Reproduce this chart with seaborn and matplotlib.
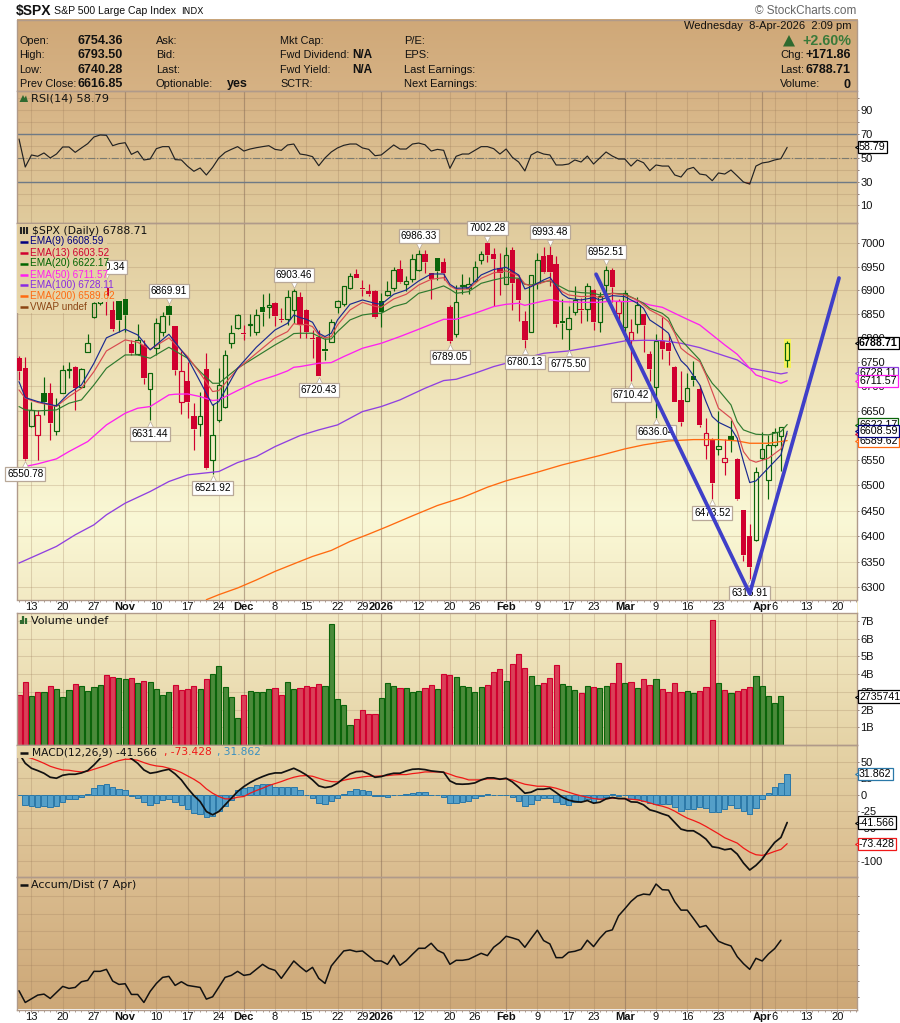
import numpy as np
import pandas as pd
import matplotlib
matplotlib.use("Agg")
import matplotlib.pyplot as plt
from matplotlib.ticker import NullLocator, FixedLocator
from matplotlib.transforms import offset_copy
import seaborn as sns

sns.set_theme(style="white")
plt.rcParams["font.family"] = ["Liberation Sans", "DejaVu Sans"]

# trading day number on the x axis, 0 is 9 Oct 2025
tick_days = [2, 7, 12, 17, 22, 27, 32, 36, 41, 46, 51, 55, 58, 64, 69, 73, 78, 83, 88, 92, 97, 102, 107, 112, 117, 119, 121, 126, 131]
tick_text = ["13", "20", "27", "Nov", "10", "17", "24", "Dec", "8", "15", "22", "29", "2026", "12", "20", "26", "Feb", "9", "17", "23", "Mar", "9", "16", "23", "", "Apr", "6", "13", "20"]
month_days = [17, 36, 58, 78, 97, 119]

open_px = [6758, 6737, 6620, 6600, 6686, 6686, 6610, 6687, 6733, 6739, 6699, 6770, 6843, 6873, 6904, 6859, 6878, 6881, 6788, 6767, 6786, 6694, 6779, 6813, 6867, 6825, 6669, 6711, 6640, 6623, 6736, 6551.5, 6632, 6657, 6790, 6820, 6811, 6827, 6813, 6865, 6864, 6873, 6839, 6840, 6859, 6885, 6859, 6799, 6803, 6777, 6791, 6864, 6871, 6904, 6935, 6905, 6899, 6899, 6877.5, 6891, 6905, 6945, 6913, 6925, 6942, 6977, 6936, 6968, 6959.5, 6864, 6808, 6910, 6905, 6920.5, 6964, 7000.8, 6976.5, 6947, 6914, 6986, 6923, 6835, 6813, 6915, 6973, 6975, 6956, 6836, 6818, 6854, 6861, 6860, 6901, 6834, 6911, 6943, 6853, 6822, 6796, 6830, 6849.5, 6766, 6698, 6794, 6790, 6740, 6672, 6671, 6721, 6695, 6580, 6593, 6572, 6547.5, 6598, 6553, 6451, 6400, 6392, 6554, 6510, 6581, 6598, 6754.36]
high_px = [6763, 6760, 6667, 6652, 6720, 6706, 6676, 6744, 6750, 6741, 6737, 6809, 6875, 6908, 6920.34, 6878, 6878, 6881, 6796, 6829, 6796, 6728, 6841, 6854, 6869.91, 6826, 6772, 6751, 6666, 6688, 6769, 6664.5, 6737, 6775, 6828, 6850, 6827, 6850, 6860, 6893, 6894, 6876, 6862, 6900, 6903.46, 6897, 6860, 6816, 6816, 6800, 6840, 6880, 6909.5, 6936, 6945, 6922, 6913, 6901, 6894, 6920.5, 6949, 6964.5, 6930, 6976.5, 6986.33, 6986, 6937, 6969, 6968, 6869, 6911, 6934, 6929, 6962, 6984, 7002.28, 6989, 6979, 6991.5, 6991.5, 6932.5, 6856.5, 6933, 6979, 6993, 6993.48, 6973, 6882, 6866, 6909, 6883, 6915, 6902, 6897, 6952.51, 6948, 6882, 6901, 6840, 6886, 6851, 6772, 6808, 6844, 6808, 6741, 6732, 6727, 6752, 6703, 6635, 6594, 6650, 6593, 6632, 6554, 6452, 6424, 6536, 6607, 6601, 6616, 6618, 6793.5]
low_px = [6713, 6550.78, 6618, 6551, 6642, 6590, 6600, 6687, 6717, 6652, 6696, 6770, 6841, 6868, 6848, 6815, 6813, 6813, 6765, 6765, 6705, 6631.44, 6765, 6804, 6827, 6724, 6643, 6635, 6571, 6599, 6533, 6521.92, 6628, 6656, 6780, 6819, 6796, 6804, 6806, 6824, 6841, 6824, 6833, 6827, 6831, 6800, 6800, 6758, 6720.43, 6754, 6791, 6853, 6867, 6903, 6926, 6887, 6889, 6842, 6822, 6889, 6899, 6915, 6899, 6917, 6941, 6936, 6882, 6922, 6922, 6789.05, 6802, 6892, 6892, 6918, 6955, 6961, 6867, 6890, 6913, 6859, 6836, 6780.13, 6812, 6903, 6936, 6910, 6822, 6798, 6775.5, 6847, 6831, 6835, 6817, 6813, 6880, 6876, 6827, 6796, 6710.42, 6810, 6771, 6710, 6636.04, 6756.5, 6743, 6667, 6620, 6670, 6700, 6617, 6553, 6473.52, 6561, 6521, 6566, 6470.5, 6352, 6316.91, 6391, 6551, 6472, 6576, 6528, 6740.28]
close_px = [6732, 6552, 6651, 6641, 6667, 6626, 6661, 6733, 6735, 6696, 6735, 6789, 6873, 6900, 6887, 6819, 6838, 6848, 6768, 6796, 6718, 6727, 6831, 6845, 6848, 6734, 6732, 6669, 6613, 6639, 6535, 6601, 6702, 6764, 6810, 6847, 6809, 6829, 6847, 6855, 6868, 6845, 6838, 6885, 6899, 6827, 6813, 6797, 6722, 6772, 6833, 6877, 6908.5, 6930, 6927, 6903, 6892, 6843, 6855, 6899, 6942, 6918, 6919, 6966, 6976.5, 6961, 6925, 6941, 6937, 6794.5, 6875, 6912, 6914, 6949, 6976.5, 6975, 6967, 6936, 6974, 6916, 6880, 6796, 6932, 6964, 6938, 6938, 6830, 6832, 6841, 6879, 6859, 6908.5, 6834, 6889, 6944, 6906, 6877.5, 6894, 6813, 6868.5, 6827, 6736, 6794, 6777, 6773, 6669, 6628, 6696, 6713, 6621, 6604.5, 6504, 6578, 6554, 6590, 6473, 6363, 6339, 6527, 6572, 6580, 6608, 6616.85, 6788.71]
day_color = list(
    "rrgrgrgggr" "ggggrrggrg" "rggggrrrrg" "rgggggrggg"
    "grrggrrrrg" "ggggrrrrgg" "grgggrrgrr" "gggggrrrgr"
    "rrggrrrggg" "rgrggrrgrg" "rrgrrrrggr" "rrgrgrrrgg"
    "gggg")

# EMA overlays, read at the listed days
fast_days = [0, 1, 3, 6, 8, 10, 12, 14, 17, 19, 21, 24, 27, 29, 31, 32, 35, 38, 41, 43, 44, 45, 46, 47, 48, 49, 50, 51, 53, 55, 57, 58, 60, 62, 64, 66, 68, 69, 70, 72, 74, 76, 78, 80, 81, 82, 84, 85, 87, 88, 90, 92, 93, 95, 97, 99, 100, 101, 103, 104, 105, 106, 107, 109, 110, 111, 112, 114, 115, 116, 117, 118, 120, 122, 123]
ema9 = [6709.8, 6677.1, 6668.9, 6660, 6685.9, 6703, 6747.6, 6800.3, 6818.2, 6806.4, 6775.2, 6807.8, 6757.9, 6709.8, 6661.4, 6668.9, 6737.3, 6780.7, 6816.8, 6830.7, 6848.1, 6842.6, 6839.1, 6832.8, 6809.9, 6803, 6809.9, 6837.7, 6870.5, 6879.6, 6872.6, 6870.5, 6891.6, 6900.7, 6919.8, 6934.6, 6934.6, 6912.7, 6904.2, 6905.6, 6932.5, 6944, 6948.8, 6932.5, 6902.8, 6907.8, 6921.9, 6927.6, 6891.6, 6883.2, 6879.6, 6884.6, 6879.6, 6888.8, 6886.7, 6872.6, 6862.1, 6837.7, 6820.3, 6809.9, 6778.7, 6753, 6740.7, 6703, 6668.9, 6638.4, 6626.8, 6614.7, 6594.4, 6547.5, 6505.5, 6508.8, 6534.9, 6561, 6608.59]
ema13 = [6692.7, 6675.7, 6667, 6659, 6679.1, 6696.1, 6730.4, 6773.1, 6796, 6791.1, 6776.6, 6800.3, 6761.4, 6727, 6689.3, 6691.4, 6735.9, 6768.2, 6800.3, 6813.3, 6830, 6827.2, 6828.5, 6823.7, 6806.4, 6800.3, 6803, 6827.2, 6858.6, 6874.6, 6866.2, 6864.2, 6881.8, 6891.6, 6911.3, 6923.3, 6926.8, 6909.3, 6902.2, 6902.8, 6925.4, 6937, 6941.2, 6930.4, 6913.4, 6909.3, 6917, 6921.9, 6897.2, 6890.2, 6886.7, 6888.1, 6884.6, 6893.7, 6890.2, 6879.6, 6869.1, 6858.6, 6844.7, 6834.2, 6809.9, 6778.7, 6768.2, 6751, 6723.5, 6689.3, 6655.3, 6635, 6607.9, 6567.6, 6550.9, 6546.2, 6554.2, 6573, 6603.52]
ema20 = [6658.7, 6651.9, 6649.9, 6651.9, 6665.5, 6672.3, 6703, 6737.3, 6764.8, 6764.8, 6757.9, 6780.7, 6757.9, 6730.4, 6706.4, 6706.4, 6737.3, 6761.4, 6785.6, 6800.3, 6809.2, 6809.9, 6809.9, 6809.9, 6803, 6797.4, 6798.1, 6813.3, 6837.7, 6848.1, 6851.6, 6851.6, 6865.7, 6872.7, 6893.7, 6900.7, 6909.3, 6902.2, 6893.7, 6897.2, 6914.8, 6921.9, 6927.6, 6925.4, 6912.7, 6911.3, 6918.4, 6919.8, 6905.6, 6898.6, 6895.1, 6893.7, 6890.2, 6893.7, 6892.3, 6879.6, 6872.7, 6862.1, 6851.6, 6841.2, 6813.3, 6796, 6782.1, 6754.5, 6727, 6706.4, 6692.7, 6662.1, 6628, 6611.3, 6606.6, 6602.5, 6601.2, 6607.9, 6622.17]
ema50_days = [0, 1, 3, 6, 8, 11, 14, 17, 19, 21, 24, 25, 27, 29, 31, 32, 35, 38, 41, 43, 44, 45, 48, 50, 52, 55, 58, 61, 64, 68, 70, 73, 76, 78, 80, 81, 84, 85, 87, 90, 93, 95, 97, 99, 101, 103, 105, 107, 109, 111, 113, 115, 117, 118, 120, 122, 123]
ema50 = [6532.2, 6537.6, 6542.9, 6552.9, 6567.6, 6587.7, 6621.4, 6645.1, 6655.3, 6658.7, 6682.5, 6683.9, 6684.5, 6679.1, 6671, 6672.3, 6691.4, 6709.8, 6722.1, 6731.8, 6739.3, 6740.7, 6747.6, 6749, 6761.4, 6778.7, 6789, 6803, 6818.2, 6839.1, 6839.1, 6851.6, 6865.7, 6870.5, 6872.7, 6868.4, 6877.5, 6880.3, 6876, 6874.7, 6874.7, 6877.5, 6876, 6877.5, 6869.1, 6864.2, 6851.6, 6839.1, 6827.2, 6806.4, 6785.6, 6766.2, 6737.3, 6723.5, 6714.6, 6706.4, 6711.57]
ema100_days = [0, 3, 6, 9, 12, 14, 17, 21, 24, 27, 30, 32, 35, 38, 41, 45, 48, 51, 55, 58, 61, 65, 68, 70, 73, 76, 78, 81, 84, 88, 93, 97, 100, 103, 106, 109, 113, 115, 117, 120, 122, 123]
ema100 = [6347.1, 6363.3, 6379.6, 6402.3, 6421.9, 6441.6, 6464.6, 6487.7, 6507.6, 6520.9, 6524.9, 6527.6, 6545.5, 6557.5, 6577.6, 6599.8, 6611.3, 6621.4, 6648.5, 6658.7, 6672.3, 6696.1, 6711.9, 6714.6, 6727, 6740.7, 6747.6, 6757.9, 6768.2, 6773.1, 6784.2, 6793.9, 6795.3, 6794.6, 6789, 6780, 6762.7, 6754.5, 6737.3, 6730.4, 6725.6, 6728.11]
ema200_days = [30, 32, 35, 38, 41, 45, 47, 50, 53, 56, 59, 63, 67, 71, 75, 78, 83, 87, 93, 97, 100, 104, 108, 112, 115, 117, 120, 123]
ema200 = [6276.3, 6286, 6298.8, 6314.3, 6331, 6350.4, 6360, 6371.7, 6389.3, 6403.6, 6418.6, 6439.6, 6460, 6475.8, 6496.3, 6509, 6526.2, 6540.9, 6559.6, 6572.9, 6581, 6589, 6591.7, 6591.7, 6589, 6584.3, 6584.3, 6589.62]

# hand drawn V on the price panel
trend_days = [92.4, 117, 131.3]
trend_px = [6934, 6288, 6926]

# high / low call-outs: day, value, side (+1 above the bar, -1 below)
callout_day = [14, 24, 44, 64, 75, 85, 94, 1, 21, 31, 48, 69, 81, 88, 98, 102, 111, 117]
callout_px = [6920.34, 6869.91, 6903.46, 6986.33, 7002.28, 6993.48, 6952.51, 6550.78, 6631.44, 6521.92, 6720.43, 6789.05, 6780.13, 6775.50, 6710.42, 6636.04, 6473.52, 6316.91]
callout_side = [1, 1, 1, 1, 1, 1, 1, -1, -1, -1, -1, -1, -1, -1, -1, -1, -1, -1]

rsi = [65.8, 42.3, 52.4, 51.3, 54.1, 49.9, 53.2, 59.1, 59.1, 54.6, 58.3, 61.9, 67.5, 69.2, 68.9, 60.2, 61.9, 62.7, 52.9, 55.5, 48.2, 49.0, 57.7, 59.4, 59.4, 48.5, 48.2, 42.9, 38.7, 41.5, 35.6, 42.0, 49.9, 54.6, 57.1, 59.4, 55.7, 57.4, 58.5, 59.4, 60.2, 57.1, 56.3, 60.8, 61.6, 53.2, 52.4, 51.0, 43.4, 49.9, 54.9, 58.3, 60.5, 61.6, 61.6, 58.3, 57.1, 51.8, 52.4, 56.6, 60.8, 57.4, 57.4, 61.6, 62.4, 61.0, 55.7, 57.1, 56.3, 41.2,
       51.3, 53.2, 53.2, 56.3, 59.4, 59.4, 57.7, 53.2, 57.4, 50.4, 46.5, 39.0, 52.4, 55.2, 53.2, 52.4, 44.0, 44.0, 44.8, 48.2, 46.5, 51.5, 44.8, 49.9, 54.9, 51.5, 49.0, 49.0, 43.1, 48.2, 45.9, 39.2, 44.0, 43.1, 43.1, 35.6, 33.9, 40.4, 42.0, 36.4, 35.6, 30.8, 37.3, 36.4, 39.8, 34.8, 29.7, 28.0, 43.1, 45.7, 46.5, 48.2, 49.3, 58.79]

# volume in billions, today has none yet
volume = [2.83, 3.57, 2.77, 2.98, 2.98, 3.34, 3.17, 2.72, 3.09, 3.45, 3.34, 3.06, 3.28, 3.38, 3.96, 3.83, 3.77, 3.74, 3.79, 3.49, 3.62, 3.57, 3.17, 2.83, 2.98, 3.40, 3.11, 3.17, 3.34, 3.17, 3.74, 4.02, 4.47, 3.26, 2.72, 1.53, 2.83, 3.06, 3.00, 3.00, 3.17, 3.23, 2.83, 3.57, 3.17, 3.23, 3.34, 3.28, 3.45, 3.34, 6.85, 2.60, 2.26, 1.13, 1.47, 1.98, 1.75, 1.75, 2.66, 3.49, 3.34, 3.23, 3.23, 3.00, 3.06, 3.23, 3.40, 3.17, 4.02, 3.96,
          3.83, 3.34, 3.28, 3.00, 3.26, 3.40, 4.13, 4.30, 3.62, 4.58, 5.15, 4.36, 3.89, 3.40, 3.51, 3.79, 4.53, 3.45, 3.34, 3.11, 2.94, 3.34, 3.28, 3.23, 3.34, 3.51, 4.64, 3.51, 3.57, 3.23, 3.74, 3.40, 3.74, 3.17, 3.00, 3.51, 3.00, 3.06, 2.94, 3.06, 3.28, 7.08, 3.51, 3.11, 2.94, 3.06, 3.17, 3.28, 3.91, 3.34, 2.77, 2.38, 2.74]

macd_line = [62.5, 47.5, 40, 36.5, 32.5, 26.5, 25, 29.5, 31, 31, 33, 36.5, 45, 55, 63.5, 67.5, 66.5, 61.5, 54.5, 47.5, 37.5, 32.5, 34, 36.5, 38.5, 31.5, 22.5, 10, -1, -10, -25, -30, -25, -15, -5, 5, 12.5, 18.5, 23.5, 27.5, 31, 33, 33, 36.5, 40, 35.5, 30, 22.5, 13.5, 11, 12.5, 17.5, 25, 31.5, 35, 35.5, 31.5, 26.5, 27.5, 30.5, 32.5, 32.5, 36, 38.5, 39, 38, 36, 35, 34, 21,
             16.5, 16, 16.5, 18, 22.5, 25.5, 25.5, 23.5, 25, 19.5, 11.5, 2.5, 4, 8.5, 8.5, 10, 3.5, -3.5, -8, -10, -11, -8.5, -12.5, -11, -6, -4, -5.5, -5.5, -10.5, -11, -15, -22.5, -25, -28.5, -31.5, -41.5, -51.5, -54, -54, -59.5, -66.5, -78, -79.5, -82.5, -81, -89, -102.5, -113, -106, -96.5, -83.5, -71.5, -64, -41.566]
macd_signal = [60, 57.5, 55, 51.5, 47.5, 43, 40, 37.5, 37, 35.5, 34.5, 35.5, 38.5, 41.5, 44.5, 48.5, 51.5, 53.5, 53.5, 52, 48.5, 45.5, 43.5, 42.5, 40, 37.5, 33.5, 28.5, 23.5, 17.5, 9, 2.5, -2.5, -6, -6, -3.5, -2.5, 2.5, 6.5, 10, 14, 17, 20, 23.5, 26.5, 28.5, 29, 28, 25, 22, 20, 19.5, 22, 24, 25.5, 27, 28, 28, 28.5, 29, 30, 30.5, 30.5, 32, 33, 34.5, 34.5, 34.5, 34, 31,
               27.5, 25.5, 22.5, 22.5, 22.5, 24, 24, 24, 24, 22.5, 19, 16, 14.5, 13, 13, 12, 10, 7, 4, 1, -1.5, -3.5, -5.5, -6.5, -6, -5, -5.5, -6, -6.5, -7.5, -9.5, -12, -15, -17, -20, -24.5, -30, -35, -38.5, -42.5, -47.5, -53, -58.5, -64.5, -68.5, -72.5, -80, -86, -90, -91, -88.5, -85, -82, -73.428]
macd_hist = [0, -14.5, -16, -17.5, -17, -17.5, -16, -10, -5.5, -5.5, -3.5, 1, 10, 14.5, 16, 11.5, 9, 7.5, -1, -4, -11, -15, -11.5, -7, -6, -10, -14.5, -21, -27, -28.5, -34, -32.5, -24.5, -16.5, -7.5, 7.5, 10, 12.5, 14.5, 16.5, 16.5, 12.5, 11.5, 12, 12, 7.5, 0, -4, -12.5, -13, -9, -4, 2, 5.5, 8.5, 7, 6, -1, -2, -2.5, 0, 0.5, 1, 3.5, 5, 4, 0.5, -0.5, -2.5, -12.5,
             -12.5, -11, -9, -4.5, -2, 1, 0.5, -0.5, 0.5, -3.5, -8.5, -16, -13, -7, -5, -4, -10, -13, -14.5, -11, -9.5, -6.5, -10.5, -6, -2.5, 1, -1, -0.5, -6, -6, -9, -12.5, -13, -13, -13, -17.5, -23.5, -21, -20.5, -18, -20, -26.5, -25.5, -20.5, -15.5, -19, -25, -29.5, -19, -6.5, 2.5, 11.5, 17.5, 31.862]

# accumulation/distribution has no scale on the chart, so these are relative units
accdist = [56, 21, 32, 43, 46, 33, 51, 69, 63, 66, 83, 87, 114, 114, 120, 85, 75, 77, 45, 45, 21, 54, 78, 96, 99, 72, 83, 72, 69, 66, 31, 38, 67, 96, 102, 114, 102, 105, 120, 135, 123, 117, 93, 119, 145, 128, 113, 126, 93, 78, 130, 153, 175, 178, 173, 175, 160, 145, 145, 135, 162, 132, 146, 165, 183, 183, 198, 177, 168, 135, 147, 147, 150, 159, 168, 161, 186, 200, 219, 214, 208, 186, 212, 237, 206, 196, 155, 155, 171, 174, 180, 207, 188, 213, 233, 238, 280, 301, 323, 339, 345, 343, 375, 358, 357, 322, 297, 297, 272, 246, 251, 228, 204, 196, 190, 158, 137, 120, 153, 145, 166, 182, 207]

GREEN = "#0a640a"
RED = "#d0002f"

W, H = 900, 1023
fig = plt.figure(figsize=(W / 100, H / 100), dpi=100, facecolor="white")


def px_axes(y0, y1, zorder=1):
    ax = fig.add_axes([16.5 / W, 1 - y1 / H, (857 - 16.5) / W, (y1 - y0) / H], zorder=zorder)
    ax.patch.set_visible(False)
    for s in ax.spines.values():
        s.set_color("#b09a8a")
        s.set_linewidth(1)
    ax.set_xlim(-0.4, 134.18)
    return ax


def dress(ax, yticks, ylabels=None, dates=False):
    ax.yaxis.set_major_locator(FixedLocator(yticks))
    ax.yaxis.set_minor_locator(NullLocator())
    ax.yaxis.tick_right()
    if ylabels is not None:
        ax.set_yticklabels(ylabels)
    else:
        ax.set_yticklabels([])
    ax.tick_params(axis="y", length=1.5, width=0.7, color="#8a7a70", labelsize=8, pad=1, labelcolor="#111111", right=True, left=False)
    for y in yticks:
        ax.axhline(y, color="#9a7a5a", alpha=0.25, lw=0.75, zorder=0.5)
    for d in tick_days:
        major = d in month_days
        ax.axvline(d, color="#8a6f5a" if major else "#9a7a5a", alpha=0.55 if major else 0.28, lw=0.85 if major else 0.75, zorder=0.5)
    ax.set_xlabel("")
    ax.set_ylabel("")
    ax.xaxis.set_major_locator(FixedLocator(tick_days))
    ax.xaxis.set_minor_locator(FixedLocator(range(0, 135)))
    if dates:
        ax.set_xticklabels(tick_text)
        ax.tick_params(axis="x", which="major", length=1.5, width=0.7, color="#8a7a70", labelsize=8, pad=0.5, labelcolor="#111111", bottom=True)
        ax.tick_params(axis="x", which="minor", length=1.2, width=0.6, color="#9a8a80", bottom=True)
        for lab, d in zip(ax.get_xticklabels(), tick_days):
            if d in month_days:
                lab.set_fontweight("bold")
    else:
        ax.tick_params(axis="x", which="both", bottom=False, labelbottom=False)


def tag(ax, y, text, color, bold=False, z=20):
    ax.plot([1.0006], [y], marker="<", ms=5, mfc="white", mec=color, mew=0.8, clip_on=False,
            transform=ax.get_yaxis_transform(), zorder=z, scalex=False, scaley=False)
    ax.annotate(text, xy=(1.0, y), xycoords=ax.get_yaxis_transform(), xytext=(1.0024, y),
                textcoords=ax.get_yaxis_transform(), fontsize=7.7, va="center", ha="left",
                fontweight="bold" if bold else "normal", color="black", annotation_clip=False, zorder=z,
                bbox=dict(boxstyle="square,pad=0.1", fc="white", ec=color, lw=0.9))


# background gradient, painted once behind all panels
grad_y = [19, 91, 223, 400, 520, 600, 613, 745, 877, 1009]
grad_rgb = np.array([(207, 168, 120), (214, 178, 132), (224, 203, 157), (240, 229, 188), (250, 248, 214), (243, 234, 196),
                     (243, 234, 196), (229, 211, 166), (218, 188, 143), (205, 168, 120)]) / 255
rows = np.arange(0, H)
grad = np.stack([np.interp(rows, grad_y, grad_rgb[:, k]) for k in range(3)], axis=1)[:, None, :]

bg = fig.add_axes([0, 0, 1, 1], zorder=0)
bg.axis("off")
bg.set_xlim(0, W)
bg.set_ylim(H, 0)
bg.imshow(grad[19:1010], extent=[16.5, 857, 1009.5, 19.5], aspect="auto", interpolation="bilinear")
bg.fill_between([16.5, 857], 600, 613, color="white", lw=0)
bg.plot([16.5, 857, 857, 16.5, 16.5], [19.5, 19.5, 91, 91, 19.5], color="#b09a8a", lw=1)
bg.set_xlim(0, W)
bg.set_ylim(H, 0)

# RSI panel
ax_rsi = px_axes(91, 223)
days_all = np.arange(len(close_px))
dress(ax_rsi, [10, 20, 30, 40, 50, 60, 70, 80, 90, 100], ["10", "", "30", "", "50", "", "70", "", "90", ""])
ax_rsi.axhline(70, color="#6f7a85", lw=1, zorder=1)
ax_rsi.axhline(30, color="#6f7a85", lw=1, zorder=1)
ax_rsi.axhline(50, color="#7a7a70", lw=0.8, ls="-.", zorder=1)
rsi_arr = np.array(rsi)
ax_rsi.fill_between(days_all, rsi_arr, 30, where=rsi_arr < 30, color="#b0503a", lw=0, zorder=1.5)
sns.lineplot(x=days_all, y=rsi, ax=ax_rsi, color="#222222", linewidth=0.85, estimator=None, errorbar=None, legend=False, zorder=2)
ax_rsi.set_xlim(-0.4, 134.18)
ax_rsi.set_ylim(-4.7, 106.1)
ax_rsi.set_xlabel("")
tag(ax_rsi, 58.79, "58.79", "black")

# price panel
ax_p = px_axes(223, 599.5)
ax_p.set_yscale("log")
ax_p.set_ylim(6276.7, 7043.7)
price_ticks = list(range(6300, 7001, 50))
dress(ax_p, price_ticks, [str(v) for v in price_ticks], dates=True)

ax_p.bar([123], [6798 - 6738], bottom=[6738], width=1.15, color="#f6f25a", lw=0, zorder=1)
for i in days_all:
    col = GREEN if day_color[i] == "g" else RED
    top_side = max(open_px[i], close_px[i])
    bot_side = min(open_px[i], close_px[i])
    ax_p.vlines(i, top_side, high_px[i], color=col, lw=0.85, zorder=3)
    ax_p.vlines(i, low_px[i], bot_side, color=col, lw=0.85, zorder=3)
    if close_px[i] >= open_px[i]:
        ax_p.bar(i, top_side - bot_side, bottom=bot_side, width=0.72, fill=False, edgecolor=col, lw=0.85, zorder=3)
    else:
        ax_p.bar(i, top_side - bot_side, bottom=bot_side, width=0.85, color=col, lw=0, zorder=3)

for days, vals, col, lw in [(ema200_days, ema200, "#ff6a10", 0.95), (ema100_days, ema100, "#9040e0", 0.95), (ema50_days, ema50, "#ff20f0", 0.95),
                            (fast_days, ema20, "#2f7a2f", 0.85), (fast_days, ema13, "#d84a50", 0.85), (fast_days, ema9, "#1a2a90", 0.85)]:
    sns.lineplot(x=days, y=vals, ax=ax_p, color=col, linewidth=lw, estimator=None, errorbar=None, sort=False, legend=False, zorder=4)

for d, v, s in zip(callout_day, callout_px, callout_side):
    ax_p.annotate(f"{v:.2f}", xy=(d, v), xytext=(0, 6.5 * s), textcoords="offset points", fontsize=7.2, ha="center",
                  va="bottom" if s > 0 else "top", color="black", zorder=5,
                  bbox=dict(boxstyle="square,pad=0.2", fc="white", ec="#b8a898", lw=0.9))
    # little white pointer between the box and the wick, under the box
    ax_p.plot([d], [v], marker="v" if s > 0 else "^", ms=4.5, mfc="white", mec="#b8a898", mew=0.5, zorder=4.9,
              transform=offset_copy(ax_p.transData, fig=fig, y=2.6 * s, units="points"), scalex=False, scaley=False)

sns.lineplot(x=trend_days, y=trend_px, ax=ax_p, color="#3f3fc8", linewidth=2.7, estimator=None, errorbar=None, sort=False, legend=False, zorder=6)
ax_p.set_xlim(-0.4, 134.18)
ax_p.set_ylim(6276.7, 7043.7)
ax_p.set_xlabel("")
ax_p.set_ylabel("")

tag(ax_p, 6728.11, "6728.11", "#9040e0", z=20)
tag(ax_p, 6711.57, "6711.57", "#ff20f0", z=21)
tag(ax_p, 6622.17, "6622.17", "#0a640a", z=22)
tag(ax_p, 6603.52, "6603.52", "#d0002f", z=23)
tag(ax_p, 6589.62, "6589.62", "#ff6a10", z=24)
tag(ax_p, 6608.59, "6608.59", "#000080", z=25)
tag(ax_p, 6788.71, "6788.71", "black", bold=True, z=26)

# volume panel
ax_v = px_axes(613, 745)
vol_df = pd.DataFrame({"day": np.arange(len(volume)), "volume": volume, "side": day_color[:len(volume)]})
sns.barplot(data=vol_df[vol_df.side == "g"], x="day", y="volume", native_scale=True, color="#4a8a3a", saturation=1,
            edgecolor=GREEN, linewidth=0.8, width=0.82, ax=ax_v, errorbar=None, zorder=2)
sns.barplot(data=vol_df[vol_df.side == "r"], x="day", y="volume", native_scale=True, color="#da4058", saturation=1,
            edgecolor=RED, linewidth=0.8, width=0.82, ax=ax_v, errorbar=None, zorder=2)
ax_v.set_xlim(-0.4, 134.18)
ax_v.set_ylim(0, 7.45)
dress(ax_v, [1, 2, 3, 4, 5, 6, 7], ["1B", "2B", "3B", "4B", "5B", "6B", "7B"])
tag(ax_v, 2.735741, "2735741", "black")

# MACD panel
ax_m = px_axes(745, 877)
sns.barplot(x=days_all, y=macd_hist, native_scale=True, color="#549fc8", saturation=1, edgecolor="#2a78a8", linewidth=0.7,
            width=0.88, ax=ax_m, errorbar=None, zorder=2)
sns.lineplot(x=days_all, y=macd_signal, ax=ax_m, color="#f01818", linewidth=0.9, estimator=None, errorbar=None, legend=False, zorder=3)
sns.lineplot(x=days_all, y=macd_line, ax=ax_m, color="#111111", linewidth=1.25, estimator=None, errorbar=None, legend=False, zorder=4)
ax_m.set_xlim(-0.4, 134.18)
ax_m.set_ylim(-123.5, 75)
dress(ax_m, [-100, -75, -50, -25, 0, 25, 50], ["-100", "", "-50", "-25", "0", "25", "50"])
tag(ax_m, 31.862, "31.862", "#2a78a8")
tag(ax_m, -41.566, "-41.566", "black")
tag(ax_m, -73.428, "-73.428", "#f01818")

# accumulation / distribution panel
ax_a = px_axes(877, 1009.5)
sns.lineplot(x=np.arange(len(accdist)), y=accdist, ax=ax_a, color="#111111", linewidth=1.1, estimator=None, errorbar=None, legend=False, zorder=3)
ax_a.set_xlim(-0.4, 134.18)
ax_a.set_ylim(0, 396)
dress(ax_a, [38, 84, 134, 182, 234, 284, 338], None, dates=True)

# everything that sits on top of the panels, in pixel coordinates
top = fig.add_axes([0, 0, 1, 1], zorder=10)
top.axis("off")
top.patch.set_visible(False)
top.set_xlim(0, W)
top.set_ylim(H, 0)


def cover(x1, y0, y1):
    top.imshow(grad[int(y0):int(y1)], extent=[17, x1, y1, y0], aspect="auto", interpolation="bilinear")


cover(106.8, 224, 302)
cover(90, 302, 313)
cover(263, 746, 758)
top.set_xlim(0, W)
top.set_ylim(H, 0)


def t(x, y, s, size=8, weight="normal", color="#111111", ha="left", fam=None):
    top.text(x, y, s, fontsize=size, fontweight=weight, color=color, ha=ha, va="center", family=fam or "Liberation Sans")


t(16, 11.5, "$SPX", size=10, weight="bold")
t(54, 11.5, "S&P 500 Large Cap Index", size=7.6)
t(181, 11.5, "INDX", size=6.5, fam="DejaVu Sans")
t(856, 11.5, "\u00a9 StockCharts.com", size=8.5, color="#666666", ha="right")

row_y = [41, 55, 70, 84]
for y, lab, val in zip(row_y, ["Open:", "High:", "Low:", "Prev Close:"], ["6754.36", "6793.50", "6740.28", "6616.85"]):
    t(19.5, y, lab, size=7.8)
    t(77.5, y, val, size=9, weight="bold")
for y, lab in zip(row_y, ["Ask:", "Bid:", "Last:", "Optionable:"]):
    t(156, y, lab)
t(227, 84.5, "yes", size=9, weight="bold")
for y, lab in zip(row_y, ["Mkt Cap:", "Fwd Dividend:", "Fwd Yield:", "SCTR:"]):
    t(280.5, y, lab, size=7.8)
t(352, 55, "N/A", size=8.5, weight="bold")
t(352, 70, "N/A", size=8.5, weight="bold")
for y, lab in zip(row_y, ["P/E:", "EPS:", "Last Earnings:", "Next Earnings:"]):
    t(404.5, y, lab)

t(851, 26, "Wednesday  8-Apr-2026  2:09 pm", ha="right")
top.fill([783, 795, 789], [46.5, 46.5, 35], color="#2f6a2f", lw=0)
t(851, 41, "+2.60%", size=10.3, weight="bold", color="#3a7a3a", ha="right")
t(780, 55, "Chg:")
t(851, 55.5, "+171.86", size=9, weight="bold", ha="right")
t(780, 70, "Last:")
t(851, 70, "6788.71", size=9, weight="bold", ha="right")
t(780, 84, "Volume:")
t(851, 84.5, "0", size=9, weight="bold", ha="right")

# panel legends
mono = "DejaVu Sans"
t(31, 98.5, "RSI(14) 58.79", size=8.2, fam=mono)
top.fill([19.5, 23, 24.5, 26, 28, 19.5], [102, 95, 98, 95.5, 102, 102], color="#2f6a2f", lw=0)
t(31.5, 230.5, "$SPX (Daily) 6788.71", size=7.8, fam=mono)
top.vlines([21, 24, 27], 227, 234, color="#222222", lw=1.5)
legend_rows = [("EMA(9) 6608.59", "#000080"), ("EMA(13) 6603.52", "#d0002f"), ("EMA(20) 6622.17", "#006400"), ("EMA(50) 6711.57", "#ff20f0"),
               ("EMA(100) 6728.11", "#8a2be2"), ("EMA(200) 6589.62", "#ff6a10"), ("VWAP undef", "#8b4513")]
for y, (lab, col) in zip([241.5, 252.5, 263.5, 274.5, 285, 296, 307], legend_rows):
    top.plot([19.5, 28], [y, y], color=col, lw=1.8, solid_capstyle="butt")
    t(29.5, y, lab, size=7.2, color=col)
top.vlines([20.5, 23, 25.5], [620, 616, 618], 624, color="#2f6a2f", lw=1.6)
t(31, 620.5, "Volume undef", size=8, fam=mono)
top.plot([19.5, 28], [752.5, 752.5], color="#111111", lw=1.8, solid_capstyle="butt")
t(31.5, 752.5, "MACD(12,26,9) -41.566", size=7.7, fam=mono)
t(164, 752.5, ", -73.428", size=7.7, color="#f01818", fam=mono)
t(217, 752.5, ", 31.862", size=7.7, color="#3a90c0", fam=mono)
top.plot([19.5, 28], [884.5, 884.5], color="#111111", lw=1.8, solid_capstyle="butt")
t(31, 884.5, "Accum/Dist (7 Apr)", size=8, fam=mono)

fig.savefig("out.png", dpi=100)
